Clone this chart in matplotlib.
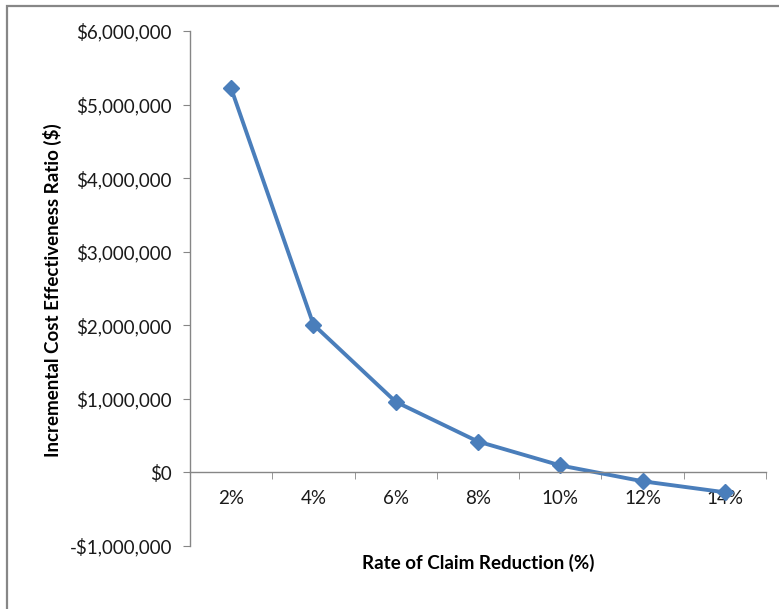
"""Ratio costo-efectividad incremental vs tasa de reduccion de reclamos."""

import matplotlib.pyplot as plt
import numpy as np
from matplotlib.patches import Rectangle
from matplotlib.ticker import FuncFormatter, FixedLocator

categories = ["2%", "4%", "6%", "8%", "10%", "12%", "14%"]
icer = [5220000, 2010000, 960000, 420000, 95000, -120000, -270000]

plt.rcParams["font.family"] = ["Lato", "DejaVu Sans"]

fig = plt.figure(figsize=(7.79, 6.09), dpi=100)
ax = fig.add_axes([190 / 779, 1 - 546 / 609, 576 / 779, 515 / 609])

# marco gris del grafico (recortado a la derecha y abajo)
fig.patches.append(Rectangle((7 / 779, -0.05), 1.2, 1 - 6 / 609 + 0.05,
                             transform=fig.transFigure, fill=False,
                             edgecolor="#878787", linewidth=1.6))

x = np.arange(len(categories))
ax.plot(x, icer, color="#4A7EBB", linewidth=2.8, marker="D", markersize=8.5,
        markerfacecolor="#4A7EBB", markeredgecolor="#4A7EBB")

ax.set_xlim(-0.5, len(categories) - 0.5)
ax.set_ylim(-1000000, 6000000)
ax.set_yticks(np.arange(-1000000, 6000001, 1000000))
ax.yaxis.set_major_formatter(FuncFormatter(
    lambda v, _: f"-${abs(v):,.0f}" if v < 0 else f"${v:,.0f}"))

ax.set_xticks(x)
ax.set_xticklabels(categories)
ax.xaxis.set_minor_locator(FixedLocator(np.arange(-0.5, len(categories), 1.0)))

for side in ("top", "right"):
    ax.spines[side].set_visible(False)
ax.spines["bottom"].set_position(("data", 0))
for side in ("bottom", "left"):
    ax.spines[side].set_color("#868686")
    ax.spines[side].set_linewidth(1.0)

ax.tick_params(axis="x", which="major", length=0, pad=13, labelsize=13.5, colors="#1a1a1a")
ax.tick_params(axis="x", which="minor", length=5, direction="out", color="#868686")
ax.tick_params(axis="y", length=5, direction="out", color="#868686", pad=8,
               labelsize=13.5, labelcolor="#1a1a1a")

fig.text(52 / 779, 1 - 290 / 609, "Incremental Cost Effectiveness Ratio ($)",
         rotation=90, ha="center", va="center", fontsize=13.5, fontweight="bold")
fig.text(478 / 779, 1 - 563 / 609, "Rate of Claim Reduction (%)", ha="center",
         va="center", fontsize=13.5, fontweight="bold")

fig.savefig("out.png", dpi=100)
